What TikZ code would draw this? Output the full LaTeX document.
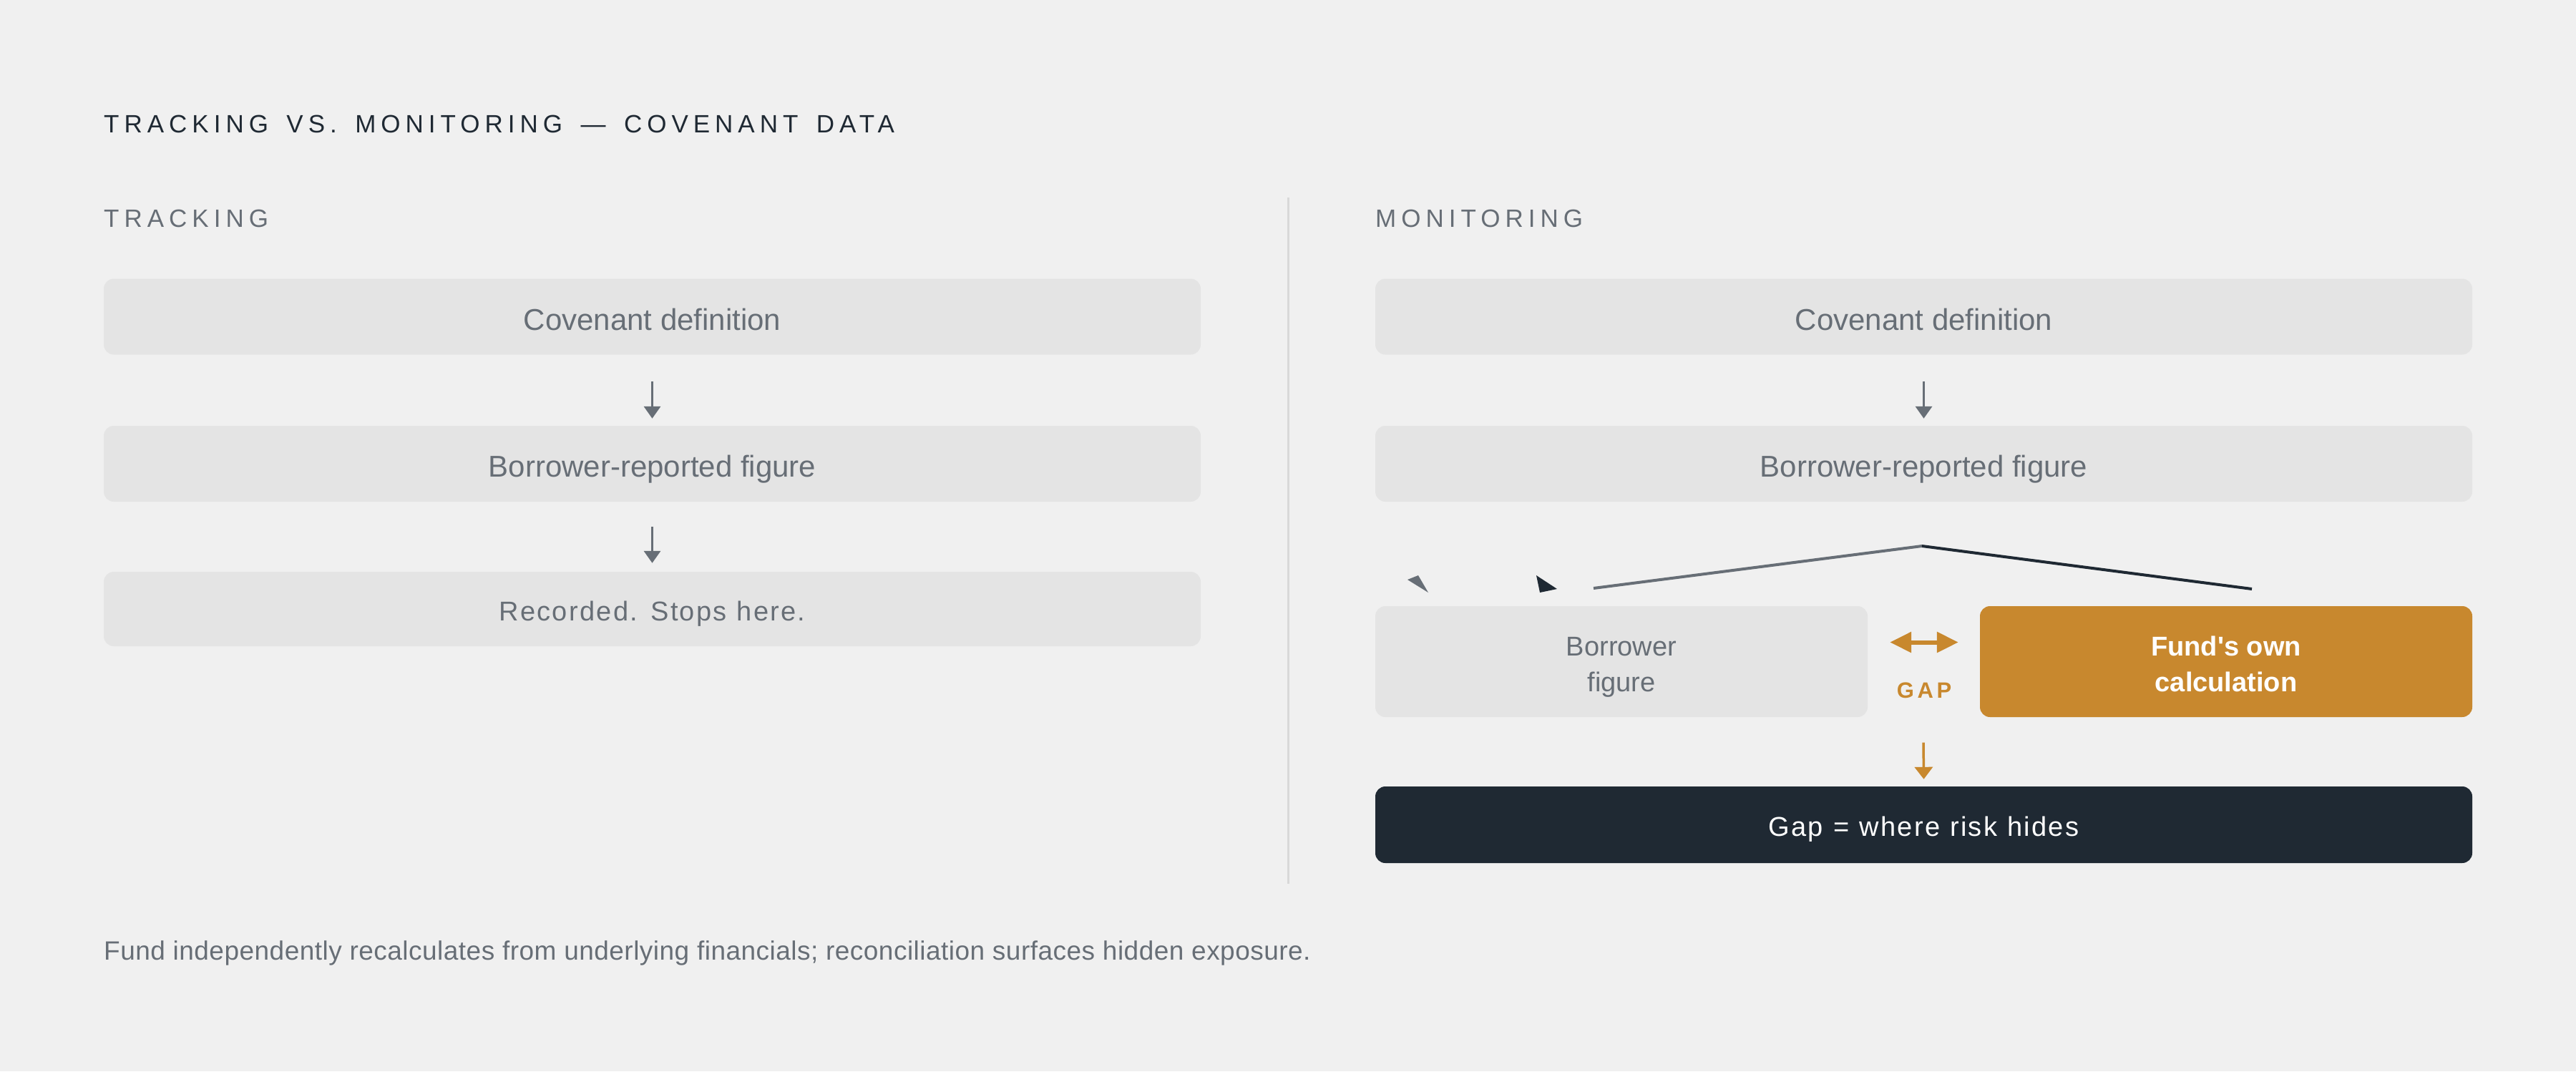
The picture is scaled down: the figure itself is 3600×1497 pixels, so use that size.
\documentclass[tikz,border=0pt]{standalone}
\usepackage{fontspec}
\setmainfont{Liberation Sans}
\usetikzlibrary{arrows.meta,calc}
\newfontfamily\spacedA[LetterSpace=20,WordSpace=1.52]{Liberation Sans}
\newfontfamily\spacedB[LetterSpace=6,WordSpace=1.1]{Liberation Sans}
\newfontfamily\spacedC[LetterSpace=15]{Liberation Sans}
\newfontfamily\spacedD[LetterSpace=1.3]{Liberation Sans}
\definecolor{bgc}{HTML}{F0F0F0}
\definecolor{boxc}{HTML}{E4E4E4}
\definecolor{txtc}{HTML}{676E76}
\definecolor{darkc}{HTML}{1F2933}
\definecolor{orangec}{HTML}{C8882E}
\definecolor{divc}{HTML}{D8D8D8}
\tikzset{
  flowbox/.style={rounded corners=14pt, fill=boxc, text=txtc, minimum width=1533pt, minimum height=106pt, inner sep=0pt,
    text height=37pt, text depth=0pt, font=\fontsize{42}{50}\selectfont},
  smallflow/.style={text height=32pt, text depth=0pt, font=\spacedB\fontsize{38}{46}\selectfont},
  halfbox/.style={rounded corners=14pt, minimum width=688pt, minimum height=155pt, inner sep=0pt, align=center,
    text height=83pt, text depth=0pt, font=\fontsize{38}{50}\selectfont},
  grayarrow/.style={draw=txtc, line width=3.5pt, -{Triangle[length=17pt,width=23pt]}},
  orangearrow/.style={draw=orangec, line width=3.5pt, -{Triangle[length=17pt,width=25pt]}},
  headtxt/.style={anchor=base west, inner sep=0pt},
}
\begin{document}
\begin{tikzpicture}[x=1pt,y=-1pt]
\fill[bgc] (0,0) rectangle (3600,1497);
\useasboundingbox (0,0) rectangle (3600,1497);

% title and headings
\node[headtxt, text=darkc, font=\spacedA\fontsize{35}{40}\selectfont] (title) at (145,185) {TRACKING VS. MONITORING — COVENANT DATA};
\node[headtxt, text=txtc, font=\spacedA\fontsize{35}{40}\selectfont] (lhead) at (145,317) {TRACKING};
\node[headtxt, text=txtc, font=\spacedA\fontsize{35}{40}\selectfont] (rhead) at (1922,317) {MONITORING};

% divider
\coordinate (dtop) at (1800,276);
\coordinate (dbot) at (1800,1235);
\draw[divc, line width=3pt] (dtop) -- (dbot);

% left column
\node[flowbox] (l1) at (911.5,442.5) {Covenant definition};
\node[flowbox] (l2) at (911.5,648) {Borrower-reported figure};
\node[flowbox, smallflow, minimum height=104pt] (l3) at (911.5,851) {Recorded. Stops here.};
\draw[grayarrow] ($(l1.south)+(0,37)$) -- ($(l2.north)+(0,-10)$);
\draw[grayarrow] ($(l2.south)+(0,35)$) -- ($(l3.north)+(0,-12)$);

% right column
\node[flowbox] (r1) at (2688.5,442.5) {Covenant definition};
\node[flowbox] (r2) at (2688.5,648) {Borrower-reported figure};
\draw[grayarrow] ($(r1.south)+(0,37)$) -- ($(r2.north)+(0,-10)$);

% branch lines and stray heads
\coordinate (apex) at (2686,763);
\coordinate (lend) at (2227,822);
\coordinate (rend) at (3147,823);
\draw[txtc, line width=4pt] (apex) -- (lend);
\draw[darkc, line width=4pt] (apex) -- (rend);
\fill[txtc] (1967,810) -- (1982,804) -- (1996,828) -- cycle;
\fill[darkc] (2147,804) -- (2176,823) -- (2152,828) -- cycle;

% comparison boxes
\node[halfbox, fill=boxc, text=txtc] (bf) at (2266,924.5) {Borrower\\figure};
\node[halfbox, fill=orangec, text=white, font=\bfseries\fontsize{38}{50}\selectfont] (fc) at (3111,924.5) {Fund\textquotesingle s own\\calculation};
\draw[orangec, line width=6pt, {Triangle[length=30pt,width=28pt]}-{Triangle[length=30pt,width=28pt]}] ($(bf.east)+(31,-27)$) -- ($(fc.west)+(-30,-27)$);
\node[text=orangec, inner sep=0pt, anchor=base, font=\spacedC\bfseries\fontsize{31}{36}\selectfont] (gap) at (2689,975) {GAP};

% result
\node[flowbox, smallflow, fill=darkc, text=white, minimum height=107pt] (res) at (2688.5,1152.5) {Gap = where risk hides};
\draw[orangearrow] ($(gap.south)+(-1,62)$) -- ($(res.north)+(0,-10)$);

% footer
\node[headtxt, text=txtc, font=\spacedD\fontsize{37}{42}\selectfont] (foot) at (145,1341) {Fund independently recalculates from underlying financials; reconciliation surfaces hidden exposure.};
\end{tikzpicture}
\end{document}
